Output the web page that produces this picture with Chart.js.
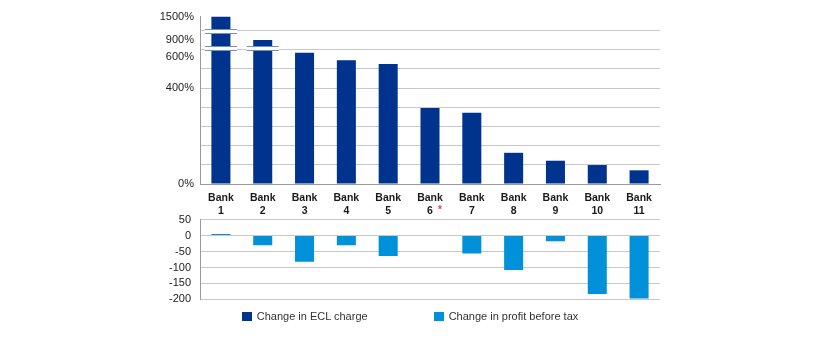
<!DOCTYPE html>
<html>
<head>
<meta charset="utf-8">
<script src="https://cdn.jsdelivr.net/npm/chart.js@4.4.1/dist/chart.umd.min.js"></script>
<style>
  html, body { margin: 0; padding: 0; background: #fff; }
  #wrap { position: relative; width: 820px; height: 340px; overflow: hidden; }
  #top { position: absolute; left: 0; top: 0; width: 820px; height: 222px; }
  #bottom { position: absolute; left: 0; top: 204px; width: 820px; height: 111px; }
  #legend {
    position: absolute; left: 0; top: 310px; width: 820px;
    display: flex; justify-content: center; gap: 66px;
    font: 11px "Liberation Sans", Arial, sans-serif; color: #333;
  }
  #legend span.item { display: flex; align-items: center; }
  #legend span.box { display: inline-block; width: 10px; height: 9px; margin-right: 5px; }
</style>
</head>
<body>
<div id="wrap">
  <div id="top"><canvas id="chart-ecl"></canvas></div>
  <div id="bottom"><canvas id="chart-lucro"></canvas></div>
  <div id="legend"></div>
</div>
<script>
// ---------------------------------------------------------------- dados
const bancos = ["Bank 1", "Bank 2", "Bank 3", "Bank 4", "Bank 5", "Bank 6", "Bank 7", "Bank 8", "Bank 9", "Bank 10", "Bank 11"];
// variação da despesa de ECL (%)
const variacaoEcl = [1500, 900, 675, 580, 555, 317, 297, 130, 97, 79, 57];
// variação do lucro antes de impostos
const variacaoLucro = [5, -30, -82, -30, -64, null, -56, -108, -18, -183, -197];

const nomesSeries = ["Change in ECL charge", "Change in profit before tax"];

// eixo quebrado: valor real (%) -> posição no eixo
const quebraReal = [0, 400, 600, 900, 1500];
const quebraEixo = [0, 400, 529, 600, 697];
const rotulosTopo = ["0%", "400%", "600%", "900%", "1500%"];
const rotulosBaixo = [50, 0, -50, -100, -150, -200];

const CORES = {
  azul: "#00338D",
  azulClaro: "#0091DA",
  grade: "#c8c8c8",
  eixo: "#9a9a9a",
  texto: "#222",
  asterisco: "#d8455a",
};

Chart.defaults.font.family = '"Liberation Sans", Arial, sans-serif';
Chart.defaults.font.size = 11;
Chart.defaults.color = CORES.texto;

function paraEixo(v) {
  for (let i = 1; i < quebraReal.length; i++) {
    if (v <= quebraReal[i]) {
      const t = (v - quebraReal[i - 1]) / (quebraReal[i] - quebraReal[i - 1]);
      return quebraEixo[i - 1] + t * (quebraEixo[i] - quebraEixo[i - 1]);
    }
  }
  return quebraEixo[quebraEixo.length - 1];
}

// marcas de quebra sobre as barras (índice do banco, posição no eixo)
const quebras = [
  { idx: 0, em: 632 },
  { idx: 0, em: 561 },
  { idx: 1, em: 561 },
];

const marcasQuebra = {
  id: "marcasQuebra",
  afterDatasetsDraw(chart) {
    const { ctx, scales: { x, y } } = chart;
    ctx.save();
    quebras.forEach((q) => {
      const cx = x.getPixelForValue(q.idx);
      const cy = Math.round(y.getPixelForValue(q.em));
      ctx.fillStyle = "#fff";
      ctx.fillRect(cx - 16, cy - 2, 32, 4);
      ctx.strokeStyle = "#6f8fbf";
      ctx.lineWidth = 1;
      ctx.beginPath();
      ctx.moveTo(cx - 16, cy - 2.5); ctx.lineTo(cx + 16, cy - 2.5);
      ctx.moveTo(cx - 16, cy + 1.5); ctx.lineTo(cx + 16, cy + 1.5);
      ctx.stroke();
    });
    ctx.restore();
  },
};

// asterisco vermelho ao lado do "6"
const asteriscoBanco6 = {
  id: "asteriscoBanco6",
  afterDraw(chart) {
    const { ctx, scales: { x }, chartArea } = chart;
    ctx.save();
    ctx.fillStyle = CORES.asterisco;
    ctx.font = 'bold 10px "Liberation Sans", Arial, sans-serif';
    ctx.textAlign = "left";
    ctx.textBaseline = "middle";
    ctx.fillText("*", x.getPixelForValue(5) + 8, chartArea.bottom + 26);
    ctx.restore();
  },
};

const larguraEixoY = (scale) => { scale.width = 200; };

// ---------------------------------------------------------------- gráfico de cima
new Chart(document.getElementById("chart-ecl"), {
  type: "bar",
  data: {
    labels: bancos,
    datasets: [{
      label: nomesSeries[0],
      data: variacaoEcl.map(paraEixo),
      backgroundColor: CORES.azul,
      barPercentage: 0.455,
      categoryPercentage: 1,
    }],
  },
  options: {
    responsive: true, maintainAspectRatio: false, animation: false,
    layout: { padding: { top: 16, right: 160, bottom: 0, left: 0 } },
    plugins: { legend: { display: false }, tooltip: { enabled: false } },
    scales: {
      x: {
        grid: { display: false },
        border: { display: true, color: CORES.eixo },
        ticks: {
          padding: 0, maxRotation: 0, autoSkip: false,
          font: { size: 10.5, weight: "bold" }, color: "#1a1a1a",
          callback: (v, i) => bancos[i].split(" "),
        },
        afterFit: (scale) => { scale.height = 38; },
      },
      y: {
        min: 0, max: 700,
        afterBuildTicks: (scale) => {
          const grade = [];
          for (let v = 0; v <= 640; v += 80) grade.push(v);
          const todos = [...new Set([...grade, ...quebraEixo])].sort((a, b) => a - b);
          scale.ticks = todos.map((v) => ({ value: v }));
        },
        ticks: {
          autoSkip: false, padding: 6,
          callback: (v) => {
            const i = quebraEixo.indexOf(v);
            return i >= 0 ? rotulosTopo[i] : "";
          },
        },
        grid: {
          drawTicks: false,
          color: (c) => (c.tick && c.tick.value % 80 === 0 ? CORES.grade : "rgba(0,0,0,0)"),
        },
        border: { display: true, color: CORES.eixo },
        afterFit: larguraEixoY,
      },
    },
  },
  plugins: [marcasQuebra, asteriscoBanco6],
});

// ---------------------------------------------------------------- gráfico de baixo
new Chart(document.getElementById("chart-lucro"), {
  type: "bar",
  data: {
    labels: bancos,
    datasets: [{
      label: nomesSeries[1],
      data: variacaoLucro,
      backgroundColor: CORES.azulClaro,
      barPercentage: 0.455,
      categoryPercentage: 1,
    }],
  },
  options: {
    responsive: true, maintainAspectRatio: false, animation: false,
    layout: { padding: { top: 4, right: 160, bottom: 0, left: 0 } },
    plugins: { legend: { display: false }, tooltip: { enabled: false } },
    scales: {
      x: { display: false },
      y: {
        min: rotulosBaixo[rotulosBaixo.length - 1], max: rotulosBaixo[0],
        ticks: { stepSize: 50, padding: 9, autoSkip: false },
        grid: { drawTicks: false, color: CORES.grade },
        border: { display: true, color: CORES.eixo },
        afterFit: larguraEixoY,
      },
    },
  },
});

// ---------------------------------------------------------------- legenda
document.getElementById("legend").innerHTML = nomesSeries.map((nome, i) =>
  `<span class="item"><span class="box" style="background:${i === 0 ? CORES.azul : CORES.azulClaro}"></span>${nome}</span>`
).join("");
</script>
</body>
</html>
